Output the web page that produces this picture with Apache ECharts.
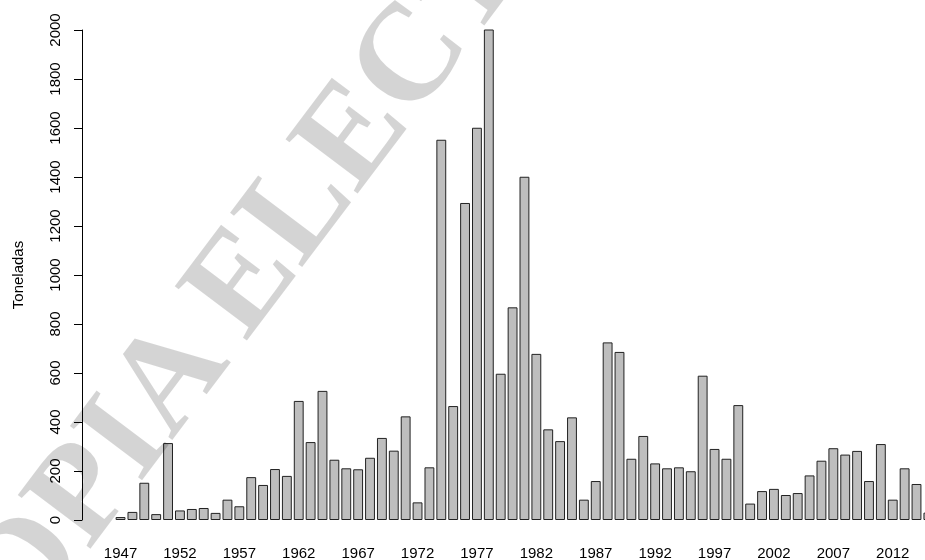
<!DOCTYPE html>
<html>
<head>
<meta charset="utf-8">
<script src="https://cdn.jsdelivr.net/npm/echarts@6/dist/echarts.min.js"></script>
<style>
  html, body { margin: 0; padding: 0; background: #ffffff; }
  #chart { width: 925px; height: 560px; }
</style>
</head>
<body>
<div id="chart"></div>
<script>
// Years (categories)
const years = [
  '1947','1948','1949','1950','1951','1952','1953','1954','1955','1956',
  '1957','1958','1959','1960','1961','1962','1963','1964','1965','1966',
  '1967','1968','1969','1970','1971','1972','1973','1974','1975','1976',
  '1977','1978','1979','1980','1981','1982','1983','1984','1985','1986',
  '1987','1988','1989','1990','1991','1992','1993','1994','1995','1996',
  '1997','1998','1999','2000','2001','2002','2003','2004','2005','2006',
  '2007','2008','2009','2010','2011','2012','2013','2014','2015'
];
// Toneladas per year
const toneladas = [
  12, 33, 152, 24, 314, 39, 45, 49, 29, 83,
  56, 175, 143, 208, 180, 486, 318, 527, 246, 211,
  207, 254, 335, 283, 423, 72, 215, 1552, 465, 1294,
  1601, 2003, 597, 868, 1401, 678, 370, 322, 419, 83,
  159, 725, 686, 250, 343, 231, 211, 215, 199, 589,
  290, 250, 469, 67, 118, 127, 102, 110, 182, 242,
  293, 267, 282, 159, 310, 83, 211, 147, 30
];
const yTicks = [0, 200, 400, 600, 800, 1000, 1200, 1400, 1600, 1800, 2000];
const yTitle = 'Toneladas';
const watermarkWords = ['COPIA', 'ELECTRONICA'];

const FONT = "'Liberation Sans', Arial, sans-serif";
const WM_FONT = "bold 138px 'Liberation Serif', 'DejaVu Serif', serif";
const WM_FILL = 'rgba(0,0,0,0.17)';
const WM_ROT = 53 * Math.PI / 180;

const chart = echarts.init(document.getElementById('chart'), null, { renderer: 'canvas' });

const band = 11.88;
chart.setOption({
  animation: false,
  backgroundColor: '#ffffff',
  grid: {
    left: 114.6, top: 30, width: band * years.length, height: 490,
    containLabel: false, outerBoundsMode: 'none'
  },
  xAxis: {
    type: 'category',
    data: years,
    axisLine: { show: false },
    axisTick: { show: false },
    axisLabel: {
      interval: 4,
      margin: 26,
      fontFamily: FONT,
      fontSize: 15,
      color: '#000'
    }
  },
  yAxis: {
    type: 'value',
    min: yTicks[0],
    max: yTicks[yTicks.length - 1],
    interval: yTicks[1] - yTicks[0],
    offset: 32.6,
    name: yTitle,
    nameLocation: 'middle',
    nameGap: 56,
    nameRotate: 90,
    nameTextStyle: { fontFamily: FONT, fontSize: 15, color: '#000' },
    axisLine: { show: true, lineStyle: { color: '#000', width: 1 } },
    axisTick: { show: true, length: 8, lineStyle: { color: '#000', width: 1 } },
    splitLine: { show: false },
    axisLabel: {
      rotate: 90,
      margin: 19,
      fontFamily: FONT,
      fontSize: 15,
      color: '#000',
      formatter: function (v) { return String(v); }
    }
  },
  series: [{
    type: 'bar',
    data: toneladas,
    barWidth: '83%',
    itemStyle: { color: '#bebebe', borderColor: '#222', borderWidth: 1 },
    emphasis: { disabled: true }
  }],
  graphic: [{
    type: 'text',
    x: 203,
    y: 340,
    rotation: WM_ROT,
    z: 100,
    silent: true,
    style: {
      text: watermarkWords[0],
      x: 0, y: 0,
      textAlign: 'right',
      textVerticalAlign: 'middle',
      font: WM_FONT,
      fill: WM_FILL
    }
  }, {
    type: 'text',
    x: 217,
    y: 321,
    rotation: WM_ROT,
    z: 100,
    silent: true,
    style: {
      text: watermarkWords[1],
      x: 0, y: 0,
      textAlign: 'left',
      textVerticalAlign: 'middle',
      font: WM_FONT,
      fill: WM_FILL
    }
  }]
});
</script>
</body>
</html>
